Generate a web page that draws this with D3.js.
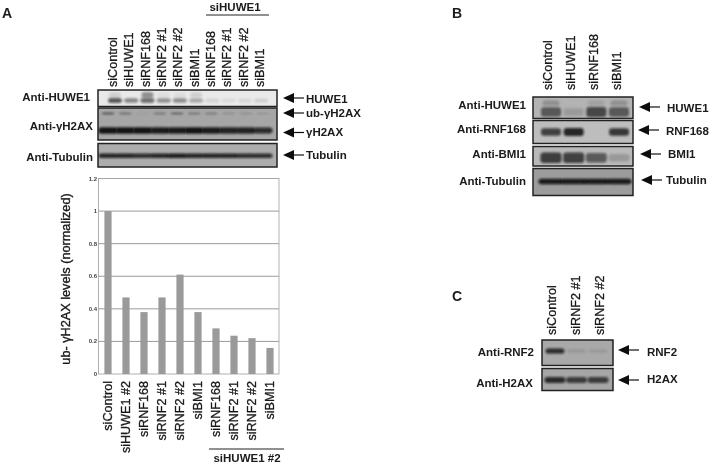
<!DOCTYPE html>
<meta charset="utf-8">
<style>
  html, body { margin: 0; padding: 0; background: #fff; }
  svg { display: block; }
  text { font-family: "Liberation Sans", Arial, sans-serif; fill: #1a1a1a; }
  .lab { font-weight: bold; font-size: 11.5px; }
  .letter { font-weight: bold; font-size: 14px; }
  .lane { font-size: 12.6px; stroke: #1a1a1a; stroke-width: 0.3px; }
  .title { font-size: 12.7px; stroke: #1a1a1a; stroke-width: 0.35px; }
  .tick { font-size: 6px; font-weight: bold; fill: #444; }
</style>
<script src="https://d3js.org/d3.v7.min.js"></script>
<div id="my_dataviz"></div>
<script>

// bar chart data (panel A)
var barLabels = ["siControl", "siHUWE1 #2", "siRNF168", "siRNF2 #1", "siRNF2 #2", "siBMI1", "siRNF168 ", "siRNF2 #1 ", "siRNF2 #2 ", "siBMI1 "]
var barValues = [1, 0.47, 0.38, 0.47, 0.61, 0.38, 0.28, 0.235, 0.22, 0.16]
var yTicks = [0, 0.2, 0.4, 0.6, 0.8, 1, 1.2]

// lane names of the blots
var lanesA = ["siControl", "siHUWE1", "siRNF168", "siRNF2 #1", "siRNF2 #2", "siBMI1", "siRNF168", "siRNF2 #1", "siRNF2 #2", "siBMI1"]
var lanesB = ["siControl", "siHUWE1", "siRNF168", "siBMI1"]
var lanesC = ["siControl", "siRNF2 #1", "siRNF2 #2"]

// band darkness per lane, read by eye (0 - 1)
var huwe1A = [0.65, 0.45, 0.55, 0.4, 0.42, 0.3, 0.1, 0.07, 0.08, 0.12]
var huwe1ASmear = [0.12, 0, 0.4, 0.06, 0.06, 0.12, 0, 0, 0, 0]
var ubH2axA = [0.65, 0.45, 0.1, 0.4, 0.55, 0.4, 0.35, 0.25, 0.25, 0.2]
var h2axA = [0.95, 0.95, 0.95, 0.9, 0.9, 0.95, 0.9, 0.85, 0.85, 0.8]
var tubulinA = [0.85, 0.85, 0.8, 0.85, 0.9, 0.85, 0.85, 0.85, 0.8, 0.8]
var huwe1B = [0.55, 0.14, 0.65, 0.55]
var huwe1BSmear = [0.22, 0, 0.1, 0.22]
var rnf168B = [0.7, 0.85, 0, 0.75]
var bmi1B = [0.72, 0.7, 0.55, 0.18]
var tubulinB = [0.9, 0.9, 0.9, 0.9]
var rnf2C = [0.8, 0.12, 0.1]
var h2axC = [0.8, 0.7, 0.7]

var width = 710, height = 466

var root = d3.select("#my_dataviz")
  .append("svg")
    .attr("width", width)
    .attr("height", height)

var defs = root.append("defs")
defs.append("filter").attr("id", "blur").attr("x", "-40%").attr("y", "-150%").attr("width", "180%").attr("height", "400%")
  .append("feGaussianBlur").attr("stdDeviation", 1.1)
defs.append("filter").attr("id", "soft").attr("x", 0).attr("y", 0).attr("width", "100%").attr("height", "100%")
  .append("feGaussianBlur").attr("stdDeviation", 0.3)

// the whole figure is a little soft, like the scanned original
var svg = root.append("g").attr("filter", "url(#soft)")

var blotCount = 0

// one blot strip: grey panel, black frame and blurred bands
function blot(x, x0, x1, y0, y1, bg, rows) {
  var id = "clip" + (blotCount++)
  defs.append("clipPath").attr("id", id).append("rect")
    .attr("x", x0).attr("y", y0).attr("width", x1 - x0).attr("height", y1 - y0)
  var g = svg.append("g")
  g.append("rect").attr("x", x0).attr("y", y0).attr("width", x1 - x0).attr("height", y1 - y0)
    .attr("fill", bg)
  var bands = g.append("g").attr("clip-path", "url(#" + id + ")")
  rows.forEach(function(r) {
    function bandH(d) { return r.h * (0.55 + 0.45 * d) }
    bands.selectAll("mybands")
      .data(r.values)
      .enter()
      .append("rect")
        .attr("x", function(d, i) { return x(i) - r.w })
        .attr("width", r.w * 2)
        .attr("y", function(d) { return r.y - bandH(d) })
        .attr("height", function(d) { return bandH(d) * 2 })
        .attr("rx", 3)
        .attr("fill", "#0c0c0c")
        .attr("opacity", function(d) { return d })
        .attr("filter", "url(#blur)")
  })
  g.append("rect").attr("x", x0).attr("y", y0).attr("width", x1 - x0).attr("height", y1 - y0)
    .attr("fill", "none").attr("stroke", "#222").attr("stroke-width", 1.5)
}

function laneScale(n, a, b) {
  return d3.scalePoint().domain(d3.range(n)).range([a, b])
}

function laneLabels(names, x, y) {
  svg.selectAll("mylanes")
    .data(names)
    .enter()
    .append("text")
      .attr("class", "lane")
      .attr("transform", function(d, i) { return "translate(" + (x(i) + 4) + "," + y + ")rotate(-90)" })
      .text(function(d) { return d })
}

function label(t, x, y, anchor) {
  svg.append("text").attr("class", "lab").attr("x", x).attr("y", y)
    .attr("text-anchor", anchor || "start").text(t)
}

// arrow pointing left at the band
function arrow(x, y, len) {
  svg.append("line").attr("x1", x + 9).attr("x2", x + len).attr("y1", y).attr("y2", y)
    .attr("stroke", "#111").attr("stroke-width", 1.2)
  svg.append("path").attr("d", "M" + x + "," + y + "L" + (x + 11) + "," + (y - 5) + "L" + (x + 11) + "," + (y + 5) + "Z")
    .attr("fill", "#111")
}

// panel letters
svg.selectAll("myletters")
  .data([["A", 2, 18], ["B", 452, 18], ["C", 452, 301]])
  .enter()
  .append("text")
    .attr("class", "letter")
    .attr("x", function(d) { return d[1] })
    .attr("y", function(d) { return d[2] })
    .text(function(d) { return d[0] })

// ---- panel A blots
laneLabels(lanesA, laneScale(10, 113, 260), 87)
var xA = laneScale(10, 108, 263)
blot(laneScale(10, 115, 261), 98, 277, 90, 106.5, "#e9e9e9", [
  {values: huwe1ASmear, y: 95, h: 4, w: 6},
  {values: huwe1A, y: 100.5, h: 3, w: 7}
])
blot(xA, 98, 277, 108, 140, "#a6a6a6", [
  {values: ubH2axA, y: 113.5, h: 0.9, w: 6.5},
  {values: h2axA, y: 130.5, h: 3.4, w: 9.5}
])
blot(xA, 98, 277, 143.5, 167, "#adadad", [{values: tubulinA, y: 155.7, h: 2.4, w: 9.5}])

label("siHUWE1", 235, 11, "middle")
svg.append("line").attr("x1", 206).attr("x2", 269).attr("y1", 15).attr("y2", 15).attr("stroke", "#222").attr("stroke-width", 1)
label("Anti-HUWE1", 90, 101, "end")
label("Anti-\u03B3H2AX", 93, 130, "end")
label("Anti-Tubulin", 93, 161, "end")
arrow(283, 98, 21); label("HUWE1", 306, 102.5)
arrow(283, 113, 21); label("ub-\u03B3H2AX", 306, 117)
arrow(283, 132.5, 21); label("\u03B3H2AX", 306, 136)
arrow(283, 155, 21); label("Tubulin", 306, 158.5)

// ---- panel A bar chart
var x = d3.scaleBand()
  .domain(barLabels)
  .range([99, 279])
  .paddingInner(0.6)
  .paddingOuter(0.3)

var y = d3.scaleLinear()
  .domain([0, 1.2])
  .range([374, 178.5])

var chart = svg.append("g")

chart.selectAll("mygrid")
  .data(yTicks.slice(1))
  .enter()
  .append("line")
    .attr("x1", 98.5).attr("x2", 279)
    .attr("y1", function(d) { return y(d) })
    .attr("y2", function(d) { return y(d) })
    .attr("stroke", "#8f8f8f").attr("stroke-width", 0.9)

chart.append("rect").attr("x", 98.5).attr("y", 178.5).attr("width", 180.5).attr("height", 195.5)
  .attr("fill", "none").attr("stroke", "#a8a8a8").attr("stroke-width", 0.9)

chart.selectAll("mybars")
  .data(barLabels)
  .enter()
  .append("rect")
    .attr("x", function(d) { return x(d) })
    .attr("width", x.bandwidth())
    .attr("y", function(d, i) { return y(barValues[i]) })
    .attr("height", function(d, i) { return y(0) - y(barValues[i]) })
    .attr("fill", "#9a9a9a")

chart.selectAll("myticks")
  .data(yTicks)
  .enter()
  .append("text")
    .attr("class", "tick")
    .attr("x", 97)
    .attr("y", function(d) { return y(d) + 2 })
    .attr("text-anchor", "end")
    .text(function(d) { return d })

chart.selectAll("mybarlabels")
  .data(barLabels)
  .enter()
  .append("text")
    .attr("class", "lane")
    .attr("transform", function(d) { return "translate(" + (x(d) + x.bandwidth() / 2 + 4) + ",381)rotate(-90)" })
    .attr("text-anchor", "end")
    .text(function(d) { return d.trim() })

svg.append("text").attr("class", "title")
  .attr("transform", "translate(70,279)rotate(-90)")
  .attr("text-anchor", "middle")
  .text("ub- \u03B3H2AX levels (normalized)")

svg.append("line").attr("x1", 209).attr("x2", 284).attr("y1", 449).attr("y2", 449).attr("stroke", "#222").attr("stroke-width", 1)
label("siHUWE1 #2", 247, 462, "middle")

// ---- panel B
var xB = laneScale(4, 551, 619)
laneLabels(lanesB, laneScale(4, 548, 617), 90)
blot(xB, 533, 633, 97, 118.5, "#b3b3b3", [
  {values: huwe1BSmear, y: 103, h: 4, w: 8.5},
  {values: huwe1B, y: 112, h: 6, w: 10}
])
blot(xB, 533, 633, 120.5, 143.5, "#bdbdbd", [{values: rnf168B, y: 132, h: 4.2, w: 10}])
blot(xB, 533, 633, 146.5, 166, "#b9b9b9", [{values: bmi1B, y: 157.7, h: 6, w: 10.5}])
blot(xB, 533, 633, 168.5, 195.5, "#9c9c9c", [{values: tubulinB, y: 181.5, h: 2.8, w: 12.5}])

label("Anti-HUWE1", 526, 109, "end")
label("Anti-RNF168", 526, 133, "end")
label("Anti-BMI1", 526, 158, "end")
label("Anti-Tubulin", 526, 185, "end")
arrow(639, 107, 21); label("HUWE1", 667, 112)
arrow(638, 130, 21); label("RNF168", 666, 135)
arrow(640, 154, 21); label("BMI1", 668, 158)
arrow(641, 180, 21); label("Tubulin", 666, 184)

// ---- panel C
laneLabels(lanesC, laneScale(3, 552, 600), 335)
var xC = laneScale(3, 555, 598)
blot(xC, 542, 613, 340, 365.5, "#a9a9a9", [{values: rnf2C, y: 351, h: 2.8, w: 9.5}])
blot(xC, 542, 613, 368.5, 390.5, "#a6a6a6", [{values: h2axC, y: 380, h: 3.4, w: 10.5}])

label("Anti-RNF2", 534, 356, "end")
label("Anti-H2AX", 533, 387, "end")
arrow(618, 350, 21); label("RNF2", 647, 356)
arrow(618, 380, 21); label("H2AX", 647, 383)

</script>
